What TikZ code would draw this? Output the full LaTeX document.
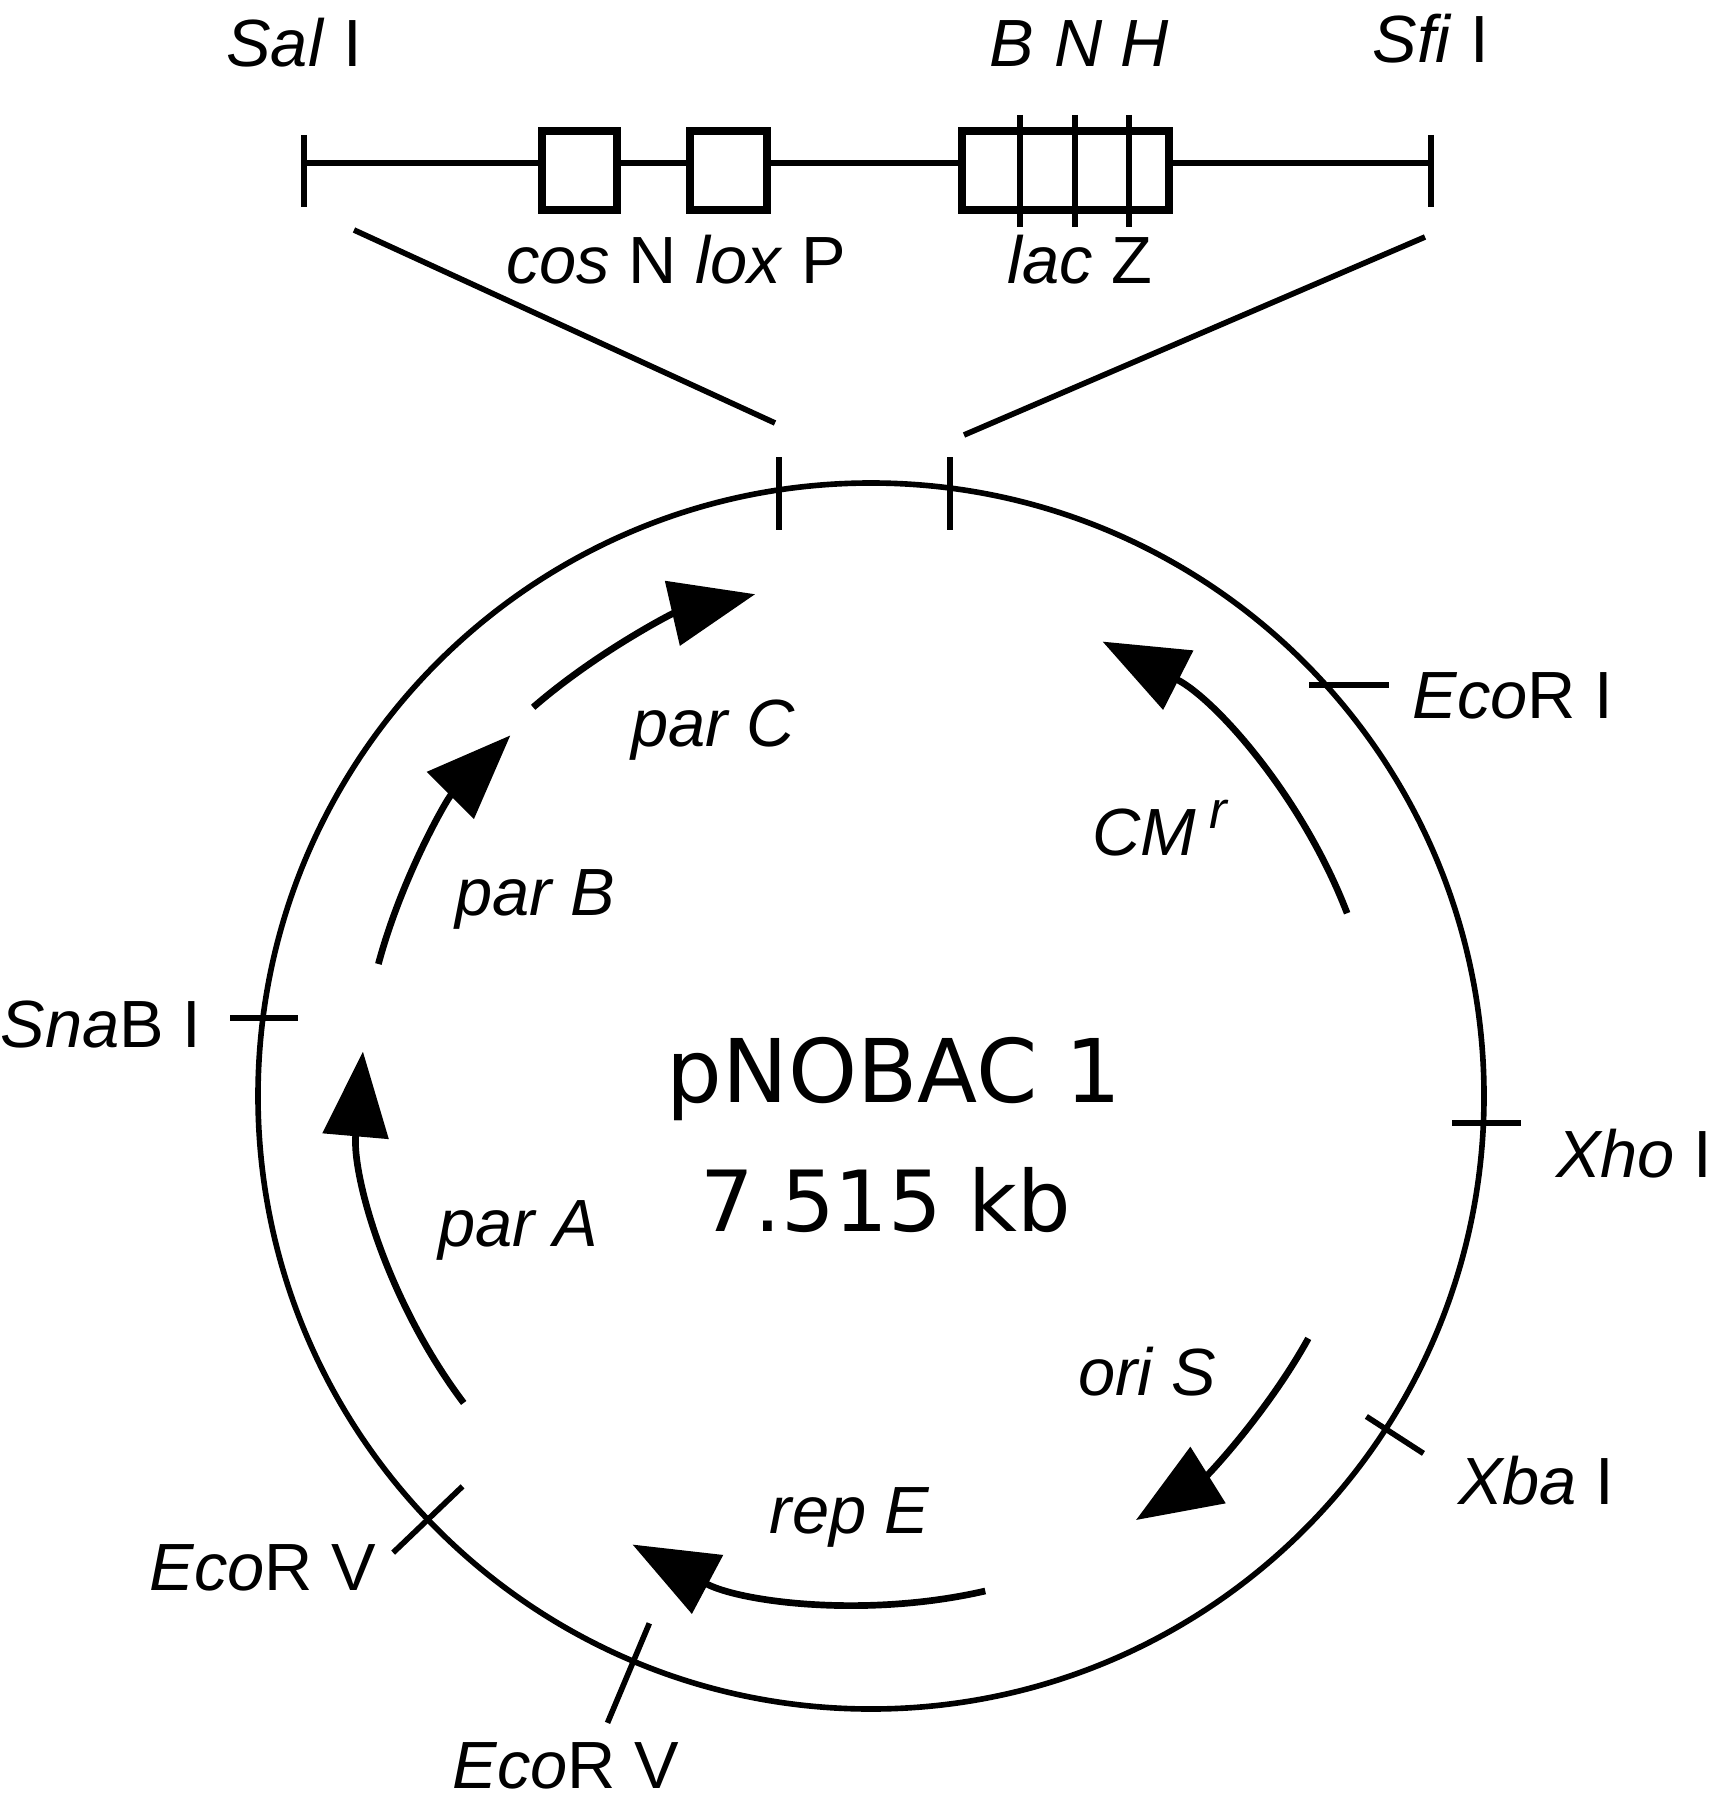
\documentclass[tikz,border=0pt]{standalone}
\usepackage{fontspec}
\setmainfont{Liberation Sans}
\newfontfamily\namefont{DejaVu Sans}
\usetikzlibrary{arrows.meta}
\tikzset{
  dna/.style={line width=1.6pt, color=black},
  site/.style={line width=1.6pt, color=black},
  gene/.style={line width=1.9pt, -{Triangle[length=8.5mm, width=6.5mm]}},
  region/.style={draw, line width=2.2pt, fill=white},
  lbl/.style={anchor=base, inner sep=0pt, font=\fontsize{19}{22}\selectfont},
  title/.style={anchor=base, inner sep=0pt, font=\namefont\fontsize{25}{30}\selectfont}
}

\begin{document}
\begin{tikzpicture}[x=0.1mm, y=0.1mm]
    \useasboundingbox (0,0) rectangle (1714,-1800);

    % Insert map
    \coordinate (mapL) at (304,-163);
    \coordinate (mapR) at (1431,-163);
    \draw[dna] (mapL) -- (mapR);
    \draw[site] (304,-135) -- (304,-207);
    \draw[site] (1431,-135) -- (1431,-207);
    \draw[region] (542,-131) rectangle (617,-210);
    \draw[region] (690,-131) rectangle (767,-210);
    \draw[region] (962,-131) rectangle (1169,-210);
    \foreach \x in {1020,1075,1129}
      \draw[site] (\x,-115) -- (\x,-227);

    \node[lbl] (sal) at (294,-67) {\textit{Sal} I};
    \node[lbl] (bam) at (1012,-67) {\textit{B}};
    \node[lbl] (not) at (1079,-67) {\textit{N}};
    \node[lbl] (hin) at (1145,-67) {\textit{H}};
    \node[lbl] (sfi) at (1431,-63) {\textit{Sfi} I};
    \node[lbl] (coslox) at (676,-284) {\textit{cos} N \textit{lox} P};
    \node[lbl] (lacz) at (1080,-284) {\textit{lac} Z};

    % Plasmid
    \coordinate (ctr) at (871,-1096);
    \draw[dna] (ctr) circle[radius=613];

    % cloning sites
    \draw[site] (779,-457) -- (779,-530);
    \draw[site] (950,-457) -- (950,-530);

    \begin{scope}[shift={(ctr)}]
      \draw[site] (-32.9:590) -- (-32.9:658);
      \draw[site] (223.7:565) -- (223.7:661);
      \draw[site] (247.2:572) -- (247.2:680);

      % genes
      \draw[gene] (131:515) arc[start angle=131, end angle=103, radius=515];
      \draw[gene] (165:510) arc[start angle=165, end angle=135, radius=510];
      \draw[gene] (217:510) arc[start angle=217, end angle=175, radius=510];
      \draw[gene] (21:510) arc[start angle=21, end angle=63, radius=510];
      \draw[gene] (-29:500) arc[start angle=-29, end angle=-58, radius=500];
      \draw[gene] (-77:508) arc[start angle=-77, end angle=-118, radius=508];
    \end{scope}

    \draw[site] (1309,-685) -- (1389,-685);
    \draw[site] (1452,-1123) -- (1521,-1123);
    \draw[site] (230,-1018) -- (298,-1018);

    % Insert lines
    \draw[dna] (354,-230) -- (775,-423);
    \draw[dna] (1425,-237) -- (964,-435);

    % Site labels
    \node[lbl] (ecori) at (1513,-718) {\textit{Eco}R I};
    \node[lbl] (xhoi) at (1634,-1177) {\textit{Xho} I};
    \node[lbl] (xbai) at (1536,-1504) {\textit{Xba} I};
    \node[lbl] (ecorvA) at (263,-1590) {\textit{Eco}R V};
    \node[lbl] (ecorvB) at (566,-1788) {\textit{Eco}R V};
    \node[lbl] (snabi) at (101,-1047) {\textit{Sna}B I};

    % Gene labels
    \node[lbl] (parc) at (713,-746) {\textit{par C}};
    \node[lbl] (cmr) at (1160,-855) {\textit{CM\hspace{0.2em}\raisebox{0.4em}{\fontsize{15}{15}\selectfont r}}};
    \node[lbl] (parb) at (535,-915) {\textit{par B}};
    \node[lbl] (para) at (518,-1246) {\textit{par A}};
    \node[lbl] (oris) at (1147,-1395) {\textit{ori S}};
    \node[lbl] (repe) at (850,-1533) {\textit{rep E}};

    % Name
    \node[title] (name) at (894,-1102) {pNOBAC 1};
    \node[title, font=\namefont\fontsize{24}{30}\selectfont] (size) at (886,-1231) {7.515 kb};
\end{tikzpicture}
\end{document}
